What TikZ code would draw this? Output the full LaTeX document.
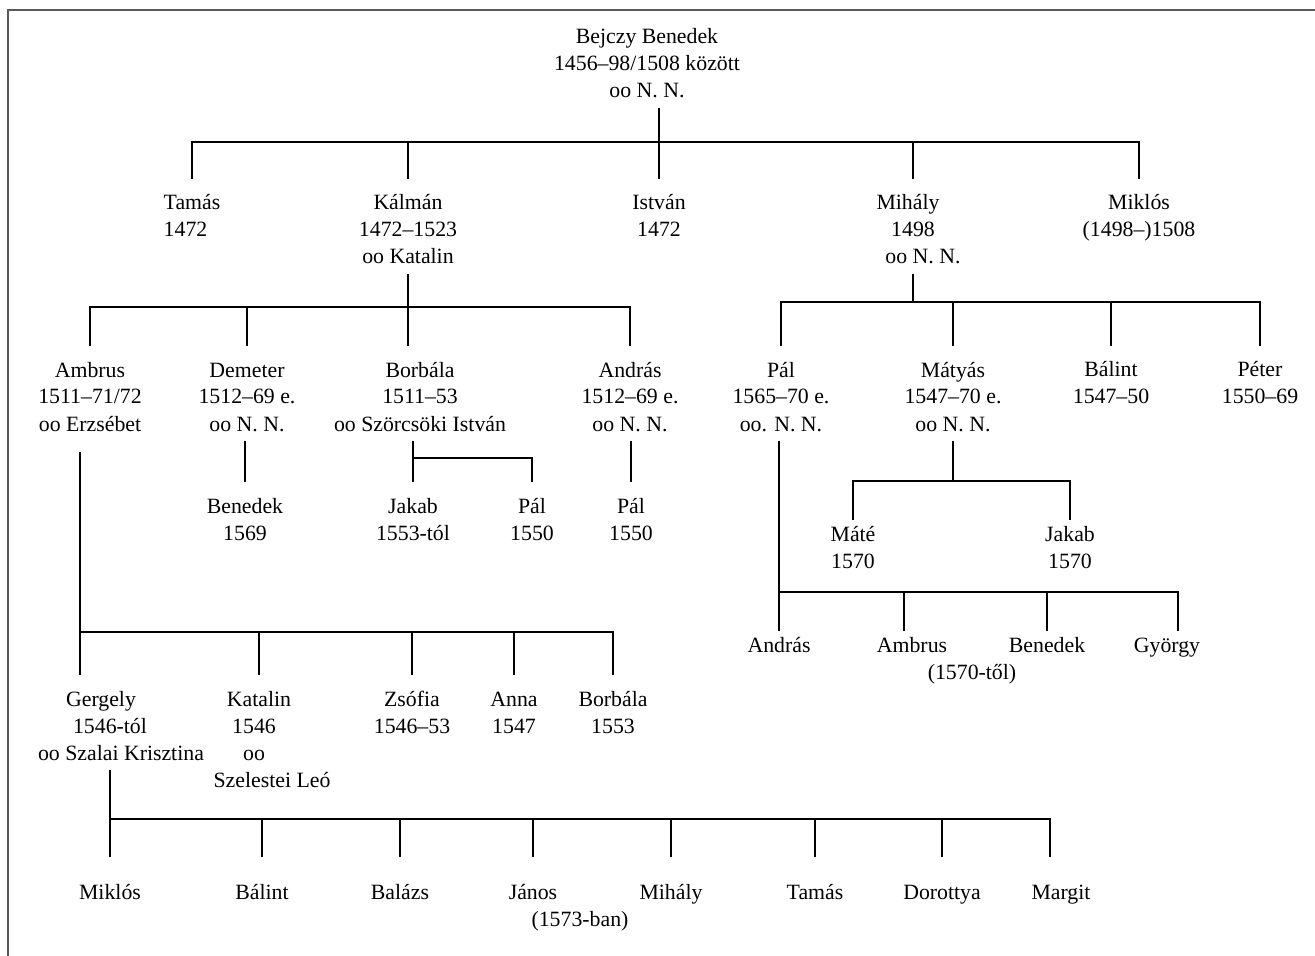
\documentclass[tikz,border=0pt]{standalone}
\usepackage{fontspec}
\setmainfont{Liberation Serif}
\usepackage{tikz}
\newcommand{\firstline}{\rule{0pt}{10.5pt}}

\begin{document}
\begin{tikzpicture}[x=0.5pt,y=-0.5pt,line width=0.75pt,
		person/.style={align=center,anchor=north,inner sep=0pt,outer ysep=5pt,
			font=\fontsize{10.9}{13.5}\selectfont}]
	\useasboundingbox (0,0) rectangle (1315,956);
	\draw[black!65] (1315,10) -- (8,10) -- (8,956);

	\node[person] (root) at (647,13) {\firstline Bejczy Benedek\\1456–98/1508 között\\oo N. N.};

	\node[person,align=left] (tamas) at (192,179) {\firstline Tamás\\1472};
	\node[person] (kalman) at (408,179) {\firstline Kálmán\\1472–1523\\oo Katalin};
	\node[person] (istvan) at (659,179) {\firstline István\\1472};
	\node[person] (mihaly) at (913,179) {\firstline Mihály\kern5pt\\1498\\\kern10pt oo N. N.};
	\node[person] (miklos) at (1139,179) {\firstline Miklós\\(1498–)1508};

	\node[person] (ambrus) at (90,346) {\firstline Ambrus\\1511–71/72\\oo Erzsébet};
	\node[person] (demeter) at (247,346) {\firstline Demeter\\1512–69 e.\\oo N. N.};
	\node[person] (borbala) at (420,346) {\firstline Borbála\\1511–53\\oo Szörcsöki István};
	\node[person] (andras) at (630,346) {\firstline András\\1512–69 e.\\oo N. N.};
	\node[person] (pal) at (781,346) {\firstline Pál\\1565–70 e.\\oo. N. N.};
	\node[person] (matyas) at (953,346) {\firstline Mátyás\\1547–70 e.\\oo N. N.};
	\node[person] (balint) at (1111,346) {\firstline Bálint\\1547–50};
	\node[person] (peter) at (1260,346) {\firstline Péter\\1550–69};

	\node[person] (benedek) at (245,482) {\firstline Benedek\\1569};
	\node[person] (jakab) at (413,482) {\firstline Jakab\\1553-tól};
	\node[person] (pala) at (532,482) {\firstline Pál\\1550};
	\node[person] (palb) at (631,482) {\firstline Pál\\1550};

	\node[person] (mate) at (853,510) {\firstline Máté\\1570};
	\node[person] (jakabb) at (1070,510) {\firstline Jakab\\1570};

	\node[person] (andrasb) at (779,621) {\firstline András};
	\node[person] (ambrusb) at (904,621) {\firstline\kern8pt Ambrus\\\kern68pt (1570-től)};
	\node[person] (benedekb) at (1047,621) {\firstline Benedek};
	\node[person] (gyorgy) at (1178,621) {\firstline György\kern11pt};

	\node[person] (gergely) at (110,675) {\firstline Gergely\kern9pt\\1546-tól\\\kern11pt oo Szalai Krisztina};
	\node[person] (katalin) at (259,675) {\firstline Katalin\\1546\kern5pt\\oo\kern5pt\\\kern13pt Szelestei Leó};
	\node[person] (zsofia) at (412,675) {\firstline Zsófia\\1546–53};
	\node[person] (anna) at (514,675) {\firstline Anna\\1547};
	\node[person] (borbalab) at (613,675) {\firstline Borbála\\1553};

	\node[person] (miklosb) at (110,868) {\firstline Miklós};
	\node[person] (balintb) at (262,868) {\firstline Bálint};
	\node[person] (balazs) at (400,868) {\firstline Balázs};
	\node[person] (janos) at (533,868) {\firstline János\\\kern47pt (1573-ban)};
	\node[person] (mihalyb) at (671,868) {\firstline Mihály};
	\node[person] (tamasb) at (815,868) {\firstline Tamás};
	\node[person] (dorottya) at (942,868) {\firstline Dorottya};
	\node[person] (margit) at (1050,868) {\firstline\kern11pt Margit};

	\coordinate (j0) at (istvan.north |- 0,142);
	\coordinate (j1) at (kalman.south |- 0,307);
	\coordinate (j2) at (mihaly.south |- 0,302);
	\coordinate (j3) at (jakab.north |- 0,458);
	\coordinate (j4) at (matyas.south |- 0,481);
	\coordinate (j5) at (andrasb.north |- 0,592);
	\coordinate (j6) at (80,632);
	\coordinate (j7) at (gergely.south |- 0,819);

	\draw (root.south -| j0) -- (istvan.north);
	\foreach \c in {tamas,kalman,mihaly,miklos}
		\draw (\c.north) |- (j0);

	\draw (kalman.south) -- (kalman.south |- borbala.north);
	\foreach \c in {ambrus,demeter,andras}
		\draw (\c.north) |- (j1);
	\draw (demeter.south -| benedek.north) -- (benedek.north);
	\draw (borbala.south -| j3) -- (jakab.north);
	\draw (pala.north) |- (j3);
	\draw (andras.south -| palb.north) -- (palb.north);

	\draw (mihaly.south) -- (j2);
	\foreach \c in {pal,matyas,balint,peter}
		\draw (\c.north) |- (j2);
	\draw (matyas.south) -- (j4);
	\foreach \c in {mate,jakabb}
		\draw[shorten <=-5pt] (\c.north) |- (j4);
	\draw[shorten >=-5pt] (pal.south -| j5) -- (andrasb.north);
	\foreach \c in {ambrusb,benedekb,gyorgy}
		\draw[shorten <=-5pt] (\c.north) |- (j5);

	\draw[shorten <=5.5pt] (ambrus.south -| j6) -- (gergely.north -| j6);
	\foreach \c in {katalin,zsofia,anna,borbalab}
		\draw (\c.north) |- (j6);
	\draw (gergely.south) -- (j7);
	\foreach \c in {miklosb,balintb,balazs,janos,mihalyb,tamasb,dorottya,margit}
		\draw[shorten <=5.5pt] (\c.north) |- (j7);
\end{tikzpicture}
\end{document}
